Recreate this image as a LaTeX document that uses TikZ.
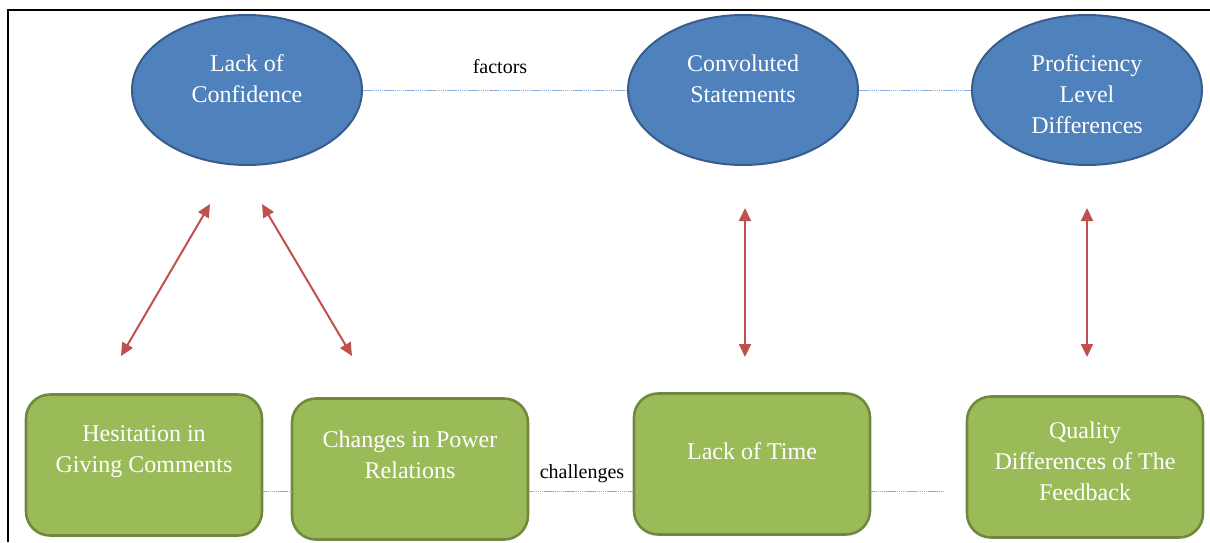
\documentclass[tikz,border=0pt]{standalone}
\usepackage{fontspec}
\setmainfont{Liberation Serif}
\usetikzlibrary{shapes.geometric,arrows.meta}
\definecolor{ellfill}{HTML}{4F81BD}
\definecolor{elldraw}{HTML}{385D8A}
\definecolor{boxfill}{HTML}{9BBB59}
\definecolor{boxdraw}{HTML}{71893F}
\definecolor{arrred}{HTML}{C0504D}
\definecolor{linkblue}{HTML}{8AAEDB}
\tikzset{
  ell/.style={ellipse, draw=elldraw, fill=ellfill, line width=2pt, minimum width=230pt, minimum height=150pt, inner sep=0pt},
  rbox/.style={rounded corners=24pt, draw=boxdraw, fill=boxfill, line width=2.6pt, minimum width=236pt, minimum height=141pt, inner sep=0pt},
  wtxt/.style={text=white, align=center, font=\fontsize{24}{31}\selectfont, inner sep=0pt},
  lbl/.style={text=black, font=\fontsize{20}{24}\selectfont, inner sep=0pt},
  link/.style={draw=linkblue, line width=1pt, dash pattern=on 1.5pt off 0.6pt},
  dblarr/.style={draw=arrred, line width=2pt, {Triangle[length=13pt,width=12pt]}-{Triangle[length=13pt,width=12pt]}},
}
\begin{document}
\begin{tikzpicture}[x=1pt,y=1pt]
\useasboundingbox (0,0) rectangle (1210,-542);
% frame
\draw[line width=2pt] (8,-542) -- (8,-10) -- (1210,-10);
% ellipses
\node[ell] (lc) at (247,-90) {};
\node[ell] (cs) at (743,-90) {};
\node[ell] (pl) at (1087,-90) {};
\node[wtxt] (lct) at (247,-79) {Lack of\\Confidence};
\node[wtxt] (cst) at (743,-79) {Convoluted\\Statements};
\node[wtxt] (plt) at (1087,-94) {Proficiency\\Level\\Differences};
% boxes
\node[rbox] (hg) at (144,-465) {};
\node[rbox] (cp) at (410,-469) {};
\node[rbox] (lt) at (752,-464) {};
\node[rbox] (qd) at (1085,-467) {};
\node[wtxt] (hgt) at (144,-452) {Hesitation in\\Giving Comments};
\node[wtxt] (cpt) at (410,-455) {Changes in Power\\Relations};
\node[wtxt] (ltt) at (752,-451) {Lack of Time};
\node[wtxt] (qdt) at (1085,-461) {Quality\\Differences of The\\Feedback};
% top links
\draw[link] (lc.east) -- (cs.west);
\draw[link] (cs.east) -- (pl.west);
\node[lbl] (fac) at (500,-67) {factors};
% bottom links
\coordinate (bend) at (944,-491);
\draw[link] (hg.east |- 0,-491) -- (cp.west |- 0,-491);
\draw[link] (cp.east |- 0,-491) -- (lt.west |- 0,-491);
\draw[link] (lt.east |- 0,-491) -- (bend);
\node[lbl] (chl) at (582,-474) {challenges};
% arrows
\coordinate (a1t) at (210,-204);
\coordinate (a1b) at (121,-356);
\coordinate (a2t) at (262,-204);
\coordinate (a2b) at (352,-356);
\coordinate (a3t) at (745,-208);
\coordinate (a3b) at (745,-357);
\coordinate (a4t) at (1087,-208);
\coordinate (a4b) at (1087,-357);
\draw[dblarr] (a1t) -- (a1b);
\draw[dblarr] (a2t) -- (a2b);
\draw[dblarr] (a3t) -- (a3b);
\draw[dblarr] (a4t) -- (a4b);
\end{tikzpicture}
\end{document}
